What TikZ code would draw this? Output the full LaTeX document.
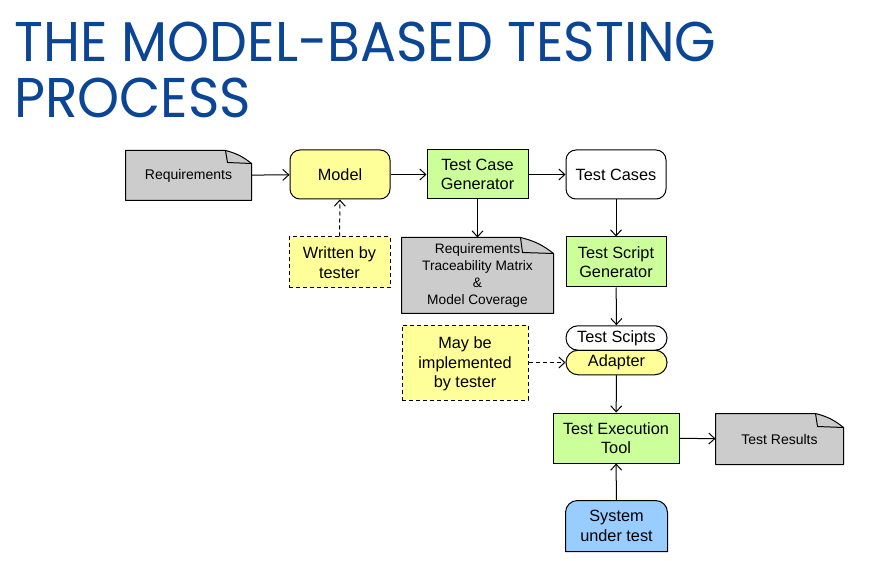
\documentclass[tikz,border=0pt]{standalone}
\usepackage{fontspec}
\setmainfont{Liberation Sans}
\newfontfamily\titlefont{Poppins}
\usetikzlibrary{arrows.meta,backgrounds}
\definecolor{titleblue}{HTML}{0B4596}
\definecolor{docgray}{HTML}{CCCCCC}
\definecolor{yel}{HTML}{FFFF99}
\definecolor{grn}{HTML}{CCFF99}
\definecolor{blu}{HTML}{99CCFF}
\tikzset{
  lw/.style={line width=1pt},
  base/.style={lw, align=center, inner sep=0pt, font=\fontsize{16.3}{19.5}\selectfont},
  greenbox/.style={base, draw, fill=grn, minimum width=#1, minimum height=50pt},
  roundbox/.style={base, draw, rounded corners=10pt, minimum height=49pt},
  notebox/.style={base, draw, dashed, dash pattern=on 4pt off 3pt, fill=yel},
  pill/.style={base, draw, rounded corners=12pt, minimum width=101pt, minimum height=24.5pt},
  docnode/.style={base, minimum height=50pt},
  arr/.style={lw, -{Straight Barb[length=6pt,width=11pt]}},
  darr/.style={arr, dash pattern=on 4pt off 3pt},
}
\newcommand\docoutline[3]{%
  \begin{scope}[on background layer]
    \draw[lw, fill=docgray, line join=round]
      (#1.south west) -- (#1.north west) -- ([xshift=-#2]#1.north east)
      to[bend left=12] ([yshift=-#3]#1.north east) -- (#1.south east) -- cycle;
    \draw[lw, line join=round] ([xshift=-#2]#1.north east) -- ([xshift=-#2+2pt,yshift=-#3+1pt]#1.north east) -- ([yshift=-#3]#1.north east);
  \end{scope}}
\begin{document}
\begin{tikzpicture}[x=1pt,y=-1pt]
\useasboundingbox (0,0) rectangle (870,561);
\begin{scope}[on background layer]
  \fill[white] (0,0) rectangle (870,561);
\end{scope}

% title
\node[anchor=base west, inner sep=0pt, text=titleblue, font=\titlefont\fontsize{56}{60}\selectfont, xscale=0.955] (t1) at (14,62) {THE MODEL-BASED TESTING};
\node[anchor=base west, inner sep=0pt, text=titleblue, font=\titlefont\fontsize{56}{60}\selectfont, xscale=0.955] (t2) at (14,118) {PROCESS};

% nodes
\node[docnode, minimum width=125pt, minimum height=49pt, font=\fontsize{14}{16}\selectfont] (req) at (188.5,175.5) {Requirements};
\docoutline{req}{26pt}{13pt}
\node[roundbox, fill=yel, minimum width=100pt] (model) at (340,174.5) {Model};
\node[greenbox=101pt, minimum height=49pt] (tcg) at (477.5,174.5) {Test Case\\Generator};
\node[roundbox, fill=white, minimum width=100pt] (tc) at (616,174.5) {Test Cases};

\node[notebox, minimum width=101pt, minimum height=51pt] (wbt) at (339.5,262.5) {Written by\\tester};
\node[docnode, minimum width=151pt, minimum height=75pt, font=\fontsize{13.7}{16.8}\selectfont] (rtm) at (477.5,275.5) {Requirements\\Traceability Matrix\\\&\\Model Coverage};
\docoutline{rtm}{33pt}{16pt}
\node[greenbox=100pt] (tsg) at (616,262) {Test Script\\Generator};

\node[pill, fill=white] (ts) at (616.5,338) {Test Scipts};
\node[pill, fill=yel] (ad) at (616.5,362.5) {Adapter};
\node[notebox, minimum width=126pt, minimum height=75pt, text depth=0pt] (may) at (465,362.5) {May be\\implemented\\by tester};

\node[greenbox=126pt] (tet) at (616,438) {Test Execution\\Tool};
\node[docnode, minimum width=127pt, font=\fontsize{14}{16}\selectfont] (tr) at (779.5,439) {Test Results};
\docoutline{tr}{28pt}{14pt}

\node[base, minimum width=101pt, minimum height=50pt] (sut) at (616.5,526) {System\\under test};
\begin{scope}[on background layer]
  \draw[lw, fill=blu] (sut.south west) -- ([yshift=-12pt]sut.north west) arc[start angle=180, end angle=90, radius=12pt]
    -- ([xshift=-12pt]sut.north east) arc[start angle=90, end angle=0, radius=12pt] -- (sut.south east) -- cycle;
\end{scope}

% connectors
\draw[arr] (req) -- (model);
\draw[arr] (model) -- (tcg);
\draw[arr] (tcg) -- (tc);
\draw[darr] (wbt) -- (model);
\draw[arr] (tcg) -- (rtm);
\draw[arr] (tc) -- (tsg);
\draw[arr] (tsg) -- (ts);
\draw[darr] (may) -- (ad);
\draw[arr] (ad) -- (tet);
\draw[arr] (tet) -- (tr);
\draw[arr] (sut) -- (tet);
\end{tikzpicture}
\end{document}
